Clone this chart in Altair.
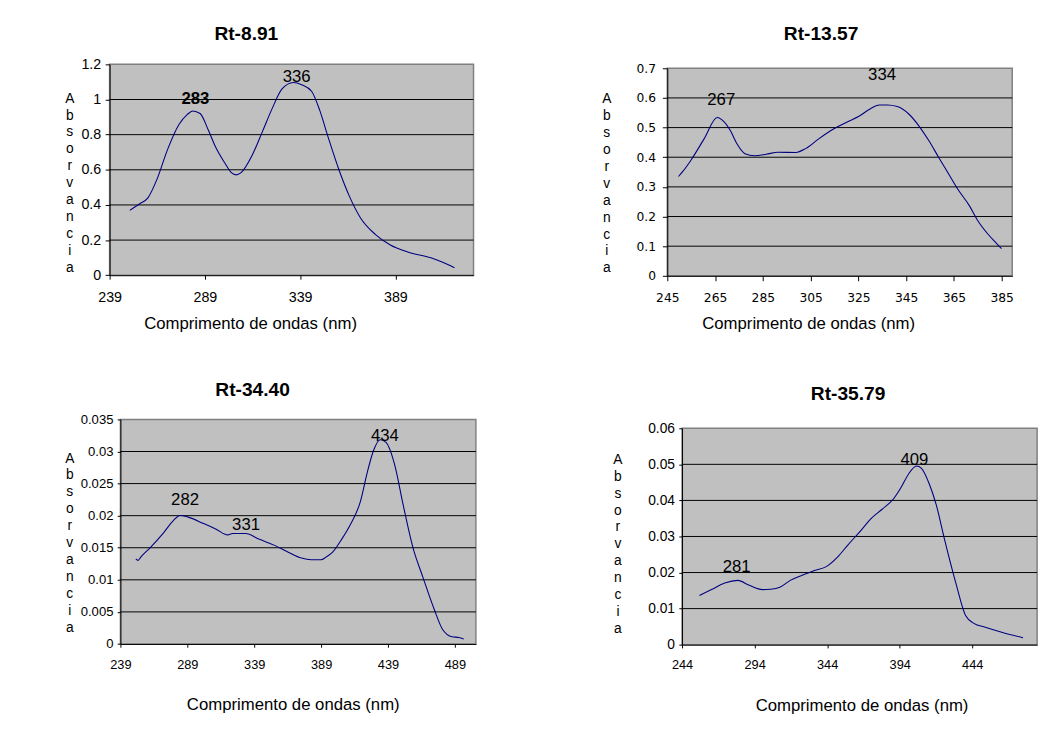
import altair as alt
import pandas as pd

# ---------------- data ----------------
p1_nm = [249.6, 254.8, 259.1, 263.9, 269.4, 275.4, 279.7, 282.6, 286.5, 290.8, 294.3, 299.4,
         302.9, 305.4, 308.0, 314.0, 319.2, 324.3, 329.5, 335.5, 339.8, 345.0, 349.3, 353.6,
         359.6, 364.7, 370.7, 378.4, 386.1, 395.5, 407.6, 413.5, 420.0]
p1_abs = [0.369, 0.407, 0.44, 0.547, 0.715, 0.858, 0.914, 0.935, 0.92, 0.826, 0.737, 0.64,
          0.584, 0.571, 0.584, 0.687, 0.817, 0.948, 1.06, 1.097, 1.084, 1.047, 0.938, 0.789,
          0.593, 0.453, 0.326, 0.233, 0.174, 0.132, 0.099, 0.075, 0.043]
p1_peak_nm = [284.0, 337.2]
p1_peak_val = [1.004, 1.127]
p1_peak_txt = ["283", "336"]
p1_peak_bold = [True, False]
p1_xticks = [239, 289, 339, 389]
p1_yticks = [0, 0.2, 0.4, 0.6, 0.8, 1, 1.2]
p1_xdom = [239, 430]

p2_nm = [249.7, 251.5, 254.9, 260.4, 265.9, 267.9, 271.4, 274.1, 277.5, 281.6, 286.4, 291.3,
         298.8, 302.9, 308.4, 314.6, 320.1, 325.6, 329.7, 333.8, 337.2, 341.3, 346.2, 350.3,
         354.4, 358.5, 362.6, 366.7, 371.5, 375.0, 379.1, 382.5, 384.9]
p2_abs = [0.335, 0.352, 0.39, 0.462, 0.534, 0.526, 0.49, 0.446, 0.412, 0.405, 0.41, 0.417,
          0.416, 0.429, 0.462, 0.495, 0.518, 0.54, 0.562, 0.576, 0.576, 0.571, 0.545, 0.506,
          0.457, 0.401, 0.346, 0.291, 0.236, 0.186, 0.142, 0.112, 0.092]
p2_peak_nm = [267.6, 334.9]
p2_peak_val = [0.592, 0.678]
p2_peak_txt = ["267", "334"]
p2_peak_bold = [False, False]
p2_xticks = [245, 265, 285, 305, 325, 345, 365, 385]
p2_yticks = [0, 0.1, 0.2, 0.3, 0.4, 0.5, 0.6, 0.7]
p2_xdom = [245, 389.4]

p3_nm = [250.5, 252.2, 254.2, 261.5, 271.4, 278.7, 283.6, 289.7, 300.8, 310.6, 319.1, 322.8,
         332.6, 342.4, 354.7, 364.5, 374.3, 381.6, 389.0, 392.7, 397.6, 403.7, 411.0, 418.4,
         423.3, 428.2, 433.1, 437.5, 444.1, 450.3, 457.6, 465.0, 473.6, 479.7, 487.0, 491.9, 495.6]
p3_abs = [0.01328, 0.01303, 0.01354, 0.01507, 0.01737, 0.01926, 0.02003, 0.01977, 0.0188,
          0.01788, 0.01701, 0.01722, 0.01722, 0.01635, 0.01533, 0.01431, 0.01339, 0.01313,
          0.01313, 0.01354, 0.01431, 0.0161, 0.01865, 0.02223, 0.02657, 0.03015, 0.03183,
          0.03142, 0.02785, 0.02172, 0.01507, 0.01047, 0.00537, 0.0023, 0.00112, 0.00102, 0.00077]
p3_peak_nm = [287.3, 332.9, 436.7]
p3_peak_val = [0.02243, 0.01855, 0.0324]
p3_peak_txt = ["282", "331", "434"]
p3_peak_bold = [False, False, False]
p3_xticks = [239, 289, 339, 389, 439, 489]
p3_yticks = [0, 0.005, 0.01, 0.015, 0.02, 0.025, 0.03, 0.035]
p3_xdom = [239, 504.7]

p4_nm = [256.0, 264.3, 273.4, 282.4, 290.3, 299.4, 305.0, 311.8, 318.6, 326.5, 334.4, 343.4,
         351.3, 358.1, 367.2, 373.9, 381.9, 389.8, 395.4, 400.0, 405.6, 409.0, 414.6, 419.1,
         424.8, 432.7, 439.5, 445.1, 453.0, 464.3, 479.0]
p4_abs = [0.01364, 0.01527, 0.01709, 0.01782, 0.01645, 0.01527, 0.01536, 0.016, 0.01782,
          0.01918, 0.02045, 0.02164, 0.02436, 0.02755, 0.03164, 0.03482, 0.03755, 0.04045,
          0.04391, 0.04727, 0.04955, 0.04891, 0.04436, 0.03891, 0.02936, 0.01709, 0.008,
          0.00591, 0.00482, 0.00345, 0.00191]
p4_peak_nm = [281.6, 404.1]
p4_peak_val = [0.02155, 0.05118]
p4_peak_txt = ["281", "409"]
p4_peak_bold = [False, False]
p4_xticks = [244, 294, 344, 394, 444]
p4_yticks = [0, 0.01, 0.02, 0.03, 0.04, 0.05, 0.06]
p4_xdom = [244, 488.7]

titles = ["Rt-8.91", "Rt-13.57", "Rt-34.40", "Rt-35.79"]
x_title = "Comprimento de ondas (nm)"
y_title = list("Absorvancia")

FONT = "Liberation Sans"
NARROW = "Liberation Sans Narrow, Arial Narrow, Liberation Sans"


def panel(nm, ab, pk_nm, pk_val, pk_txt, pk_bold, xticks, yticks, xdom, title, st):
    ydom = [yticks[0], yticks[-1]]
    xs = alt.Scale(domain=xdom, nice=False, zero=False)
    ys = alt.Scale(domain=ydom, nice=False, zero=False)

    line_df = pd.DataFrame({"nm": nm, "abs": ab})
    grid_df = pd.DataFrame({"abs": yticks[1:-1]})
    pk_df = pd.DataFrame({"nm": pk_nm, "abs": pk_val, "t": pk_txt, "b": pk_bold})

    x_axis = alt.Axis(
        values=xticks, format="d", labelFont=st["xfont"], labelFontSize=st["xls"],
        labelColor="black", labelPadding=st["xlp"], labelFlush=False, labelOverlap=False,
        tickSize=st["xts"], tickColor="black", domainColor="black", domainWidth=1,
        grid=False, title=x_title, titleFont=FONT, titleFontSize=17,
        titleFontWeight="normal", titleColor="black", titleAlign="center",
        titleBaseline="alphabetic", titleX=st["xtx"], titleY=st["xty"],
    )
    y_axis = alt.Axis(
        values=yticks, format="~g", labelFont=st["yfont"], labelFontSize=st["yls"],
        labelColor="black", labelPadding=st["ylp"], labelFlush=False, labelOverlap=False,
        tickSize=st["yts"], tickColor="black", domainColor="black", domainWidth=1,
        grid=False, title=y_title, titleAngle=0, titleFont=FONT, titleFontSize=14,
        titleFontWeight="normal", titleColor="black", titleAlign="center",
        titleBaseline="alphabetic", titleLineHeight=17.2,
        titleX=st["ytx"], titleY=st["yty"],
    )
    X = alt.X("nm:Q", scale=xs, axis=x_axis)
    Y = alt.Y("abs:Q", scale=ys, axis=y_axis)

    # horizontal grid lines (drawn with the chart's own y scale)
    grid = alt.Chart(grid_df).mark_rule(color="black", strokeWidth=1).encode(y=Y)
    line = alt.Chart(line_df).mark_line(
        color="#000080", strokeWidth=1.1, interpolate="monotone"
    ).encode(x=X, y=Y)
    layers = [grid, line]
    for bold in (False, True):
        sub = pk_df[pk_df["b"] == bold]
        if len(sub) == 0:
            continue
        layers.append(
            alt.Chart(sub).mark_text(
                font=FONT, fontSize=17, color="black", align="center", baseline="middle",
                fontWeight="bold" if bold else "normal",
            ).encode(x=X, y=Y, text="t:N")
        )
    return alt.layer(*layers).properties(
        width=st["w"], height=st["h"],
        title=alt.TitleParams(
            text=title, font=FONT, fontSize=19.5, fontWeight="bold", color="black",
            anchor="middle", frame="group", dx=st["tdx"], offset=st["toff"],
            baseline="alphabetic",
        ),
    )


def spacer(w, h):
    # empty layout cell (no visible marks) used only to place the panels
    return alt.Chart(pd.DataFrame({"z": [0]})).mark_point(size=0, opacity=0).encode(
        x=alt.X("z:Q", scale=alt.Scale(domain=[0, 1]), axis=None),
        y=alt.Y("z:Q", scale=alt.Scale(domain=[0, 1]), axis=None),
    ).properties(
        width=w, height=h,
        view=alt.ViewBackground(fill="transparent", stroke="transparent"),
    )


s1 = dict(w=370, h=214.4, xfont=NARROW, xls=14.5, xlp=12, xts=4, yfont=NARROW, yls=14.5,
          ylp=4.5, yts=4.5, xtx=142.8, xty=54, ytx=-41, yty=38.4, tdx=-46, toff=-2.7)
s2 = dict(w=350.7, h=211, xfont="DejaVu Sans", xls=12.5, xlp=11, xts=5, yfont="DejaVu Sans",
          yls=12.5, ylp=7, yts=5, xtx=143.2, xty=54, ytx=-62, yty=35, tdx=-19, toff=2.9)
s3 = dict(w=361.4, h=228.3, xfont=NARROW, xls=13, xlp=11.5, xts=3.3, yfont=NARROW, yls=13.3,
          ylp=4.3, yts=3.3, xtx=175.2, xty=66.7, ytx=-52, yty=43.3, tdx=-46.3, toff=-2.3)
s4 = dict(w=361, h=220, xfont=NARROW, xls=13, xlp=10.5, xts=3.3, yfont=NARROW, yls=14,
          ylp=4.4, yts=3.3, xtx=182.5, xty=67.3, ytx=-65.7, yty=35.6, tdx=-11.7, toff=2.1)

c1 = panel(p1_nm, p1_abs, p1_peak_nm, p1_peak_val, p1_peak_txt, p1_peak_bold,
           p1_xticks, p1_yticks, p1_xdom, titles[0], s1)
c2 = panel(p2_nm, p2_abs, p2_peak_nm, p2_peak_val, p2_peak_txt, p2_peak_bold,
           p2_xticks, p2_yticks, p2_xdom, titles[1], s2)
c3 = panel(p3_nm, p3_abs, p3_peak_nm, p3_peak_val, p3_peak_txt, p3_peak_bold,
           p3_xticks, p3_yticks, p3_xdom, titles[2], s3)
c4 = panel(p4_nm, p4_abs, p4_peak_nm, p4_peak_val, p4_peak_txt, p4_peak_bold,
           p4_xticks, p4_yticks, p4_xdom, titles[3], s4)

# 4 x 4 layout: spacer row, panel row, spacer row, panel row
cells = [
    spacer(1, 1), spacer(1, 1), spacer(1, 1), spacer(1, 1),
    spacer(1, 1), c1, spacer(124.5, 1), c2,
    spacer(1, 44.3), spacer(1, 44.3), spacer(1, 44.3), spacer(1, 44.3),
    spacer(1, 1), c3, spacer(124.5, 1), c4,
]

chart = alt.concat(
    *cells, columns=4, align="none", bounds="full", spacing=0,
).properties(
    padding={"left": 53.3, "top": 6.3, "right": 5, "bottom": 5},
    background="white",
).configure_axis(
    labelOverlap=False, labelFlush=False,
).configure_view(
    fill="#c0c0c0", stroke="#808080", strokeWidth=1.5,
)

chart.save("out.html", embed_options={"renderer": "svg", "actions": False})
